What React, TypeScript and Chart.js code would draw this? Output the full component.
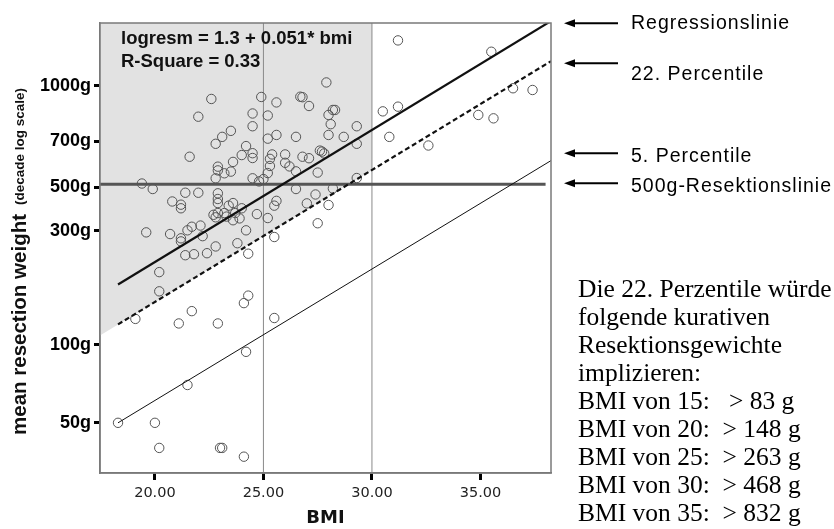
import React, { useEffect, useRef } from "react";
import { Chart, registerables } from "chart.js";

Chart.register(...registerables);

// ---- data ----
const pointBMI = [
  31.2, 35.5, 36.5, 37.4, 30.5, 31.2, 34.9, 35.6, 30.8, 32.6,
  27.9, 22.6, 24.9, 25.6, 26.7, 26.8, 27.1, 22.0, 24.5, 25.2,
  28.0, 28.2, 28.3, 24.5, 28.1, 29.3, 23.5, 23.1, 22.8, 25.2,
  25.6, 26.5, 28.0, 28.7, 29.3, 24.2, 21.6, 24.0, 24.5, 24.5,
  25.4, 25.3, 26.0, 26.8, 27.1, 27.6, 27.7, 27.8, 23.6, 22.9,
  22.9, 23.5, 23.2, 25.3, 25.2, 26.0, 26.2, 26.5, 27.5, 29.3,
  22.8, 24.5, 24.8, 25.0, 19.4, 19.9, 26.5, 28.2, 21.4, 22.0,
  22.9, 22.9, 22.9, 27.4, 20.8, 21.2, 21.2, 23.4, 23.6, 24.0,
  25.6, 25.5, 27.0, 28.0, 22.7, 22.8, 22.9, 23.2, 23.3, 23.7,
  23.9, 23.6, 24.7, 25.2, 27.5, 24.2, 19.6, 20.7, 21.2, 21.2,
  21.7, 22.1, 21.5, 22.2, 22.8, 23.8, 25.5, 22.4, 21.8, 21.4,
  24.3, 20.2, 20.2, 24.3, 24.1, 21.7, 19.1, 21.1, 22.9, 25.5,
  24.2, 21.5, 18.3, 20.0, 20.2, 23.0, 23.1, 24.1,
];
const pointWeightG = [
  1500, 1356, 980, 965, 798, 832, 773, 750, 636, 589,
  1032, 891, 907, 864, 909, 905, 837, 761, 783, 769,
  773, 808, 808, 699, 712, 699, 671, 636, 598, 626,
  647, 636, 647, 636, 598, 586, 533, 541, 550, 527,
  544, 523, 544, 533, 526, 563, 558, 549, 509, 488,
  472, 467, 460, 491, 461, 505, 489, 468, 463, 441,
  440, 440, 428, 437, 420, 400, 400, 402, 387, 387,
  385, 366, 353, 381, 358, 348, 337, 345, 353, 337,
  360, 345, 352, 347, 318, 311, 323, 323, 313, 323,
  308, 303, 320, 309, 295, 277, 272, 268, 258, 251,
  286, 289, 277, 263, 240, 247, 261, 226, 224, 222,
  225, 191, 161, 155, 145, 135, 126, 121, 121, 127,
  94, 70, 50, 50, 40, 40, 40, 37,
];

const xRange = [17.47, 38.25];
const yRange = [32, 1751];
const xTickValues = [20, 25, 30, 35];
const yTickValues = [1000, 613, 407, 276, 100, 50];
const yTickLabels = ["1000g", "700g", "500g", "300g", "100g", "50g"];

const lineBMI = [18.3, 38.25];
const regressionG = [171, 1782];
const percentile22G = [120, 1247];
const percentile5G = [50, 515];

const shadeBMI = [17.47, 30];
const shadeG = [108.6, 473];
const refLineBMI = [25, 30];
const resectionBMI = [17.47, 38.0];
const resectionG = [417, 417];

const formulaLines = ["logresm = 1.3 + 0.051* bmi", "R-Square = 0.33"];
const yTitleMain = "mean resection weight";
const yTitleSub = "(decade log scale)";
const xTitle = "BMI";
const legendLabels = ["Regressionslinie", "22. Percentile", "5. Percentile", "500g-Resektionslinie"];
const noteLines = ["Die 22. Perzentile würde", "folgende kurativen", "Resektionsgewichte", "implizieren:"];
const noteBMI = [15, 20, 25, 30, 35];
const noteG = [83, 148, 263, 468, 832];

const SANS = '"Liberation Sans", Arial, sans-serif';
const SERIF = '"Liberation Serif", "Times New Roman", serif';

const pairs = (xs: number[], ys: number[]) => xs.map((x, i) => ({ x, y: ys[i] }));

const annotatePlugin = {
  id: "annotate",
  afterDraw(chart: any) {
    const { ctx, chartArea: a } = chart;
    ctx.save();
    // frame
    ctx.strokeStyle = "#7a7a7a";
    ctx.lineWidth = 1.5;
    ctx.strokeRect(a.left, a.top, a.right - a.left, a.bottom - a.top);

    // formula
    ctx.fillStyle = "#111";
    ctx.textAlign = "left";
    ctx.textBaseline = "alphabetic";
    ctx.font = `bold 18.5px ${SANS}`;
    ctx.fillText(formulaLines[0], 121, 44);
    ctx.fillText(formulaLines[1], 121, 67);

    // y title (rotated)
    ctx.save();
    ctx.translate(26, 435);
    ctx.rotate(-Math.PI / 2);
    ctx.font = `bold 20.5px ${SANS}`;
    ctx.fillStyle = "#111";
    ctx.fillText(yTitleMain, 0, 0);
    const w = ctx.measureText(yTitleMain).width;
    ctx.font = `bold 13.5px ${SANS}`;
    ctx.fillText(yTitleSub, w + 9, -2);
    ctx.restore();

    // x title
    ctx.font = `bold 18px "DejaVu Sans", sans-serif`;
    ctx.textAlign = "center";
    ctx.fillText(xTitle, (a.left + a.right) / 2, 523);

    // legend arrows
    const arrowY = [23.3, 63.3, 153.3, 183.3];
    const textY = [28.5, 80, 161.7, 191.7];
    ctx.textAlign = "left";
    ctx.font = `19.5px ${SANS}`;
    (ctx as any).letterSpacing = "1px";
    legendLabels.forEach((lab, i) => {
      const y = arrowY[i];
      ctx.strokeStyle = "#000";
      ctx.fillStyle = "#000";
      ctx.lineWidth = 2;
      ctx.beginPath();
      ctx.moveTo(572, y);
      ctx.lineTo(618, y);
      ctx.stroke();
      ctx.beginPath();
      ctx.moveTo(564, y);
      ctx.lineTo(575, y - 4);
      ctx.lineTo(575, y + 4);
      ctx.closePath();
      ctx.fill();
      ctx.fillText(lab, 631, textY[i]);
    });
    (ctx as any).letterSpacing = "0px";

    // note block
    ctx.font = `25.5px ${SERIF}`;
    ctx.fillStyle = "#000";
    const x0 = 578;
    const y0 = 297;
    const pitch = 28;
    noteLines.forEach((t, i) => ctx.fillText(t, x0, y0 + i * pitch));
    noteBMI.forEach((b, i) => {
      const y = y0 + (noteLines.length + i) * pitch;
      const gap = b < 20 ? "   " : "  ";
      ctx.fillText(`BMI von ${b}:${gap}> ${noteG[i]} g`, x0, y);
    });
    ctx.restore();
  },
};

export default function App() {
  const ref = useRef<HTMLCanvasElement>(null);
  useEffect(() => {
    if (!ref.current) return;
    const lineDs = (data: any[], color: string, width: number, dash: number[] = [], order = 2) => ({
      data,
      showLine: true,
      borderColor: color,
      borderWidth: width,
      borderDash: dash,
      pointRadius: 0,
      fill: false,
      order,
    });
    const chart = new Chart(ref.current, {
      type: "scatter",
      data: {
        datasets: [
          {
            data: pairs(shadeBMI, shadeG),
            showLine: true,
            borderWidth: 0,
            borderColor: "rgba(0,0,0,0)",
            backgroundColor: "#e2e2e2",
            fill: "end",
            pointRadius: 0,
            order: 20,
          } as any,
          ...refLineBMI.map((b) => lineDs([{ x: b, y: yRange[0] }, { x: b, y: yRange[1] }], "#8a8a8a", 1, [], 15)),
          lineDs(pairs(resectionBMI, resectionG), "#555", 3, [], 12),
          {
            data: pairs(pointBMI, pointWeightG),
            pointRadius: 4.7,
            pointBorderWidth: 1,
            pointBorderColor: "#555",
            pointBackgroundColor: "rgba(0,0,0,0)",
            showLine: false,
            order: 10,
          } as any,
          lineDs(pairs(lineBMI, regressionG), "#111", 2.2, [], 3),
          lineDs(pairs(lineBMI, percentile22G), "#111", 2.2, [5, 3], 3),
          lineDs(pairs(lineBMI, percentile5G), "#111", 1, [], 3),
        ],
      },
      options: {
        animation: false,
        responsive: false,
        events: [],
        layout: { padding: { left: 0, top: 23, right: 283, bottom: 0 } },
        plugins: { legend: { display: false }, tooltip: { enabled: false } },
        scales: {
          x: {
            type: "linear",
            min: xRange[0],
            max: xRange[1],
            afterBuildTicks: (s: any) => {
              s.ticks = xTickValues.map((v) => ({ value: v }));
            },
            afterFit: (s: any) => {
              s.height = 56;
            },
            ticks: {
              autoSkip: false,
              maxRotation: 0,
              padding: 5,
              color: "#222",
              font: { family: '"DejaVu Sans", sans-serif', size: 14.5 },
              callback: (v: any) => Number(v).toFixed(2),
            },
            grid: { drawOnChartArea: false, drawTicks: true, tickLength: 7, tickWidth: 3, tickColor: "#000" },
            border: { display: true, color: "#7a7a7a", width: 1.5 },
          },
          y: {
            type: "logarithmic",
            min: yRange[0],
            max: yRange[1],
            afterBuildTicks: (s: any) => {
              s.ticks = yTickValues.map((v) => ({ value: v }));
            },
            afterFit: (s: any) => {
              s.width = 100;
            },
            ticks: {
              autoSkip: false,
              padding: 3,
              color: "#000",
              font: { family: SANS, size: 18, weight: "bold" },
              callback: (v: any) => yTickLabels[yTickValues.indexOf(Number(v))] ?? "",
            },
            grid: { drawOnChartArea: false, drawTicks: true, tickLength: 6, tickWidth: 3, tickColor: "#000" },
            border: { display: true, color: "#7a7a7a", width: 1.5 },
          },
        },
      } as any,
      plugins: [annotatePlugin],
    });
    return () => chart.destroy();
  }, []);
  return (
    <div style={{ position: "absolute", left: 0, top: 0, width: 834, height: 529, background: "#fff" }}>
      <canvas ref={ref} width={834} height={529} style={{ width: 834, height: 529, display: "block" }} />
    </div>
  );
}
